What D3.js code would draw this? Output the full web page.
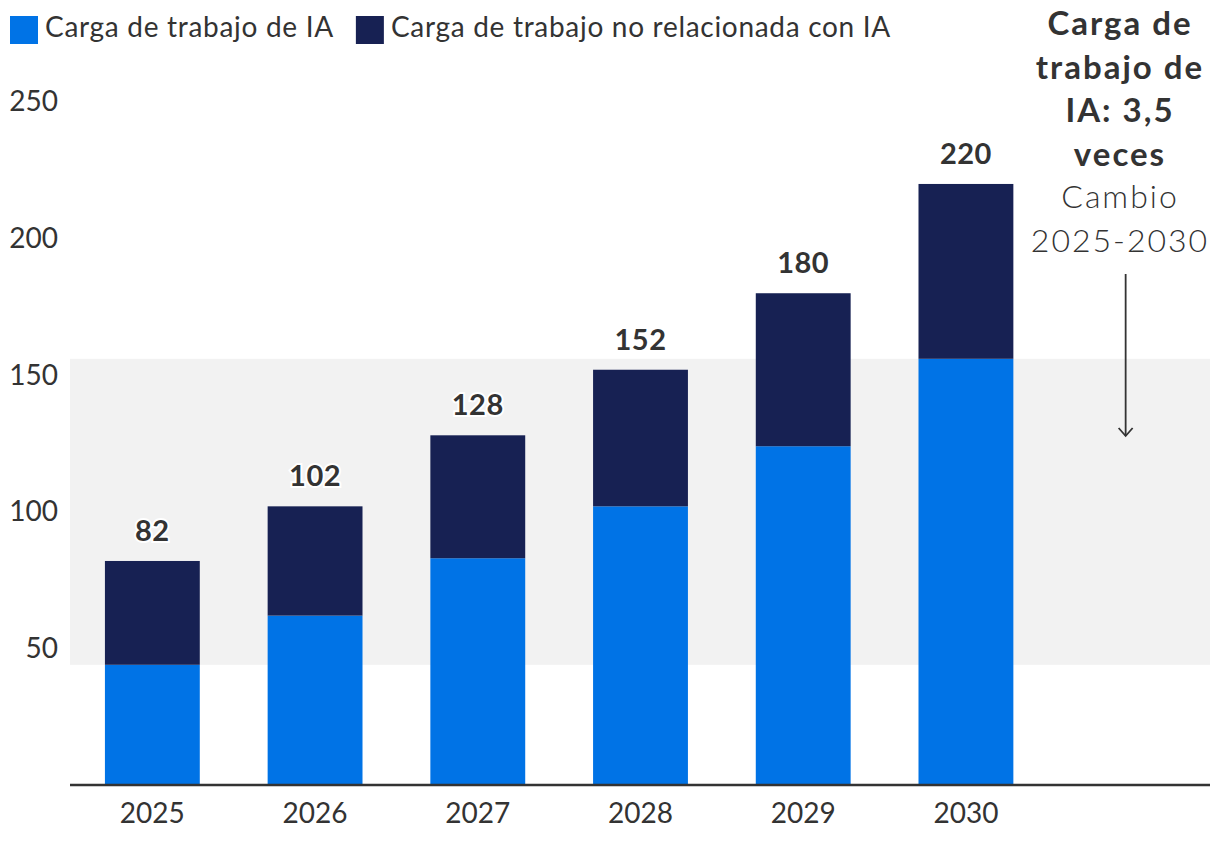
<!DOCTYPE html>
<html>
<head>
<meta charset="utf-8">
<script src="https://cdn.jsdelivr.net/npm/d3@7"></script>
<style>
  body { margin: 0; background: #fff; }
  svg { font-family: Lato, "Noto Sans", sans-serif; }
</style>
</head>
<body>
<svg id="chart" width="1220" height="846"></svg>
<script>
// Data
const years = ["2025", "2026", "2027", "2028", "2029", "2030"];
const aiLoad = [44, 62, 83, 102, 124, 156];
const nonAiLoad = [38, 40, 45, 50, 56, 64];
const totals = [82, 102, 128, 152, 180, 220];
const yTicks = [50, 100, 150, 200, 250];
const legendLabels = ["Carga de trabajo de IA", "Carga de trabajo no relacionada con IA"];
const noteBold = ["Carga de", "trabajo de", "IA: 3,5", "veces"];
const noteLight = ["Cambio", "2025-2030"];

const colors = ["#0073E6", "#172153"];
const textColor = "#333";
const font = "Lato, 'Noto Sans', sans-serif";

// SVG setup
const svg = d3.select("#chart");
const margin = {top: 60, right: 10, bottom: 61, left: 71};
const width = 1220, height = 846;

// one extra slot on the right for the note
const x = d3.scaleBand()
    .domain([...years, "note"])
    .range([margin.left, width - margin.right])
    .paddingInner(0.417)
    .paddingOuter(0.2085);

const y = d3.scaleLinear()
    .domain([0, 250])
    .range([height - margin.bottom, 102]);

// Grey band: AI range 2025 -> 2030
svg.append("rect")
    .attr("x", 70)
    .attr("width", width - margin.right - 70)
    .attr("y", y(aiLoad[aiLoad.length - 1]))
    .attr("height", y(aiLoad[0]) - y(aiLoad[aiLoad.length - 1]))
    .attr("fill", "#f2f2f2");

// Stacked bars
const rows = years.map((yr, i) => ({year: yr, ai: aiLoad[i], other: nonAiLoad[i], total: totals[i]}));
const stack = d3.stack().keys(["ai", "other"])(rows);

svg.append("g")
    .selectAll("g")
    .data(stack)
    .enter().append("g")
    .attr("fill", (d, i) => colors[i])
    .selectAll("rect")
    .data(d => d)
    .enter().append("rect")
    .attr("x", d => x(d.data.year))
    .attr("width", x.bandwidth())
    .attr("y", d => y(d[1]))
    .attr("height", d => y(d[0]) - y(d[1]));

// Total labels
svg.append("g")
    .selectAll("text")
    .data(rows)
    .enter().append("text")
    .attr("x", d => x(d.year) + x.bandwidth() / 2)
    .attr("y", d => y(d.total) - 20)
    .attr("text-anchor", "middle")
    .attr("font-size", 29)
    .attr("font-weight", "bold")
    .attr("letter-spacing", 0.5)
    .attr("fill", textColor)
    .attr("stroke", "#fff")
    .attr("stroke-width", 4)
    .attr("paint-order", "stroke")
    .text(d => d.total);

// X axis
const xAxis = svg.append("g")
    .attr("transform", `translate(0,${y(0)})`)
    .call(d3.axisBottom(x).tickSize(0).tickPadding(18).tickFormat(d => d === "note" ? "" : d));
xAxis.select(".domain").attr("stroke", textColor).attr("stroke-width", 2.5)
    .attr("d", `M70,0H${width - margin.right}`);
xAxis.selectAll("text").attr("font-size", 28).attr("fill", textColor).attr("font-family", font);

// Y axis (labels only)
const yAxis = svg.append("g")
    .attr("transform", `translate(58,0)`)
    .call(d3.axisLeft(y).tickValues(yTicks).tickSize(0).tickPadding(0));
yAxis.select(".domain").remove();
yAxis.selectAll("text").attr("font-size", 28).attr("fill", textColor).attr("font-family", font);

// Legend
const legend = svg.append("g");
let lx = 10;
legendLabels.forEach((lab, i) => {
    legend.append("rect")
        .attr("x", lx).attr("y", 16)
        .attr("width", 28).attr("height", 28)
        .attr("fill", colors[i]);
    const t = legend.append("text")
        .attr("x", lx + 35).attr("y", 37)
        .attr("font-size", 28)
        .attr("letter-spacing", 0.7)
        .attr("fill", textColor)
        .text(lab);
    lx += 35 + t.node().getComputedTextLength() + 22;
});

// Note on the right
const noteX = 1120;
const note = svg.append("g").attr("text-anchor", "middle").attr("fill", textColor);
noteBold.forEach((line, i) => {
    note.append("text")
        .attr("x", noteX).attr("y", 35 + i * 43.5)
        .attr("font-size", 33).attr("font-weight", "bold")
        .attr("letter-spacing", 2)
        .text(line);
});
noteLight.forEach((line, i) => {
    note.append("text")
        .attr("x", noteX).attr("y", 208 + i * 43.5)
        .attr("font-size", 32).attr("font-weight", 300)
        .attr("letter-spacing", 2)
        .text(line);
});

// Arrow
const ax = x("note") + x.bandwidth() / 2 - 3;
svg.append("line")
    .attr("x1", ax).attr("x2", ax)
    .attr("y1", 274).attr("y2", 436)
    .attr("stroke", textColor).attr("stroke-width", 1.8);
svg.append("path")
    .attr("d", `M${ax - 7},${428} L${ax},${436} L${ax + 7},${428}`)
    .attr("fill", "none")
    .attr("stroke", textColor).attr("stroke-width", 1.8);
</script>
</body>
</html>
